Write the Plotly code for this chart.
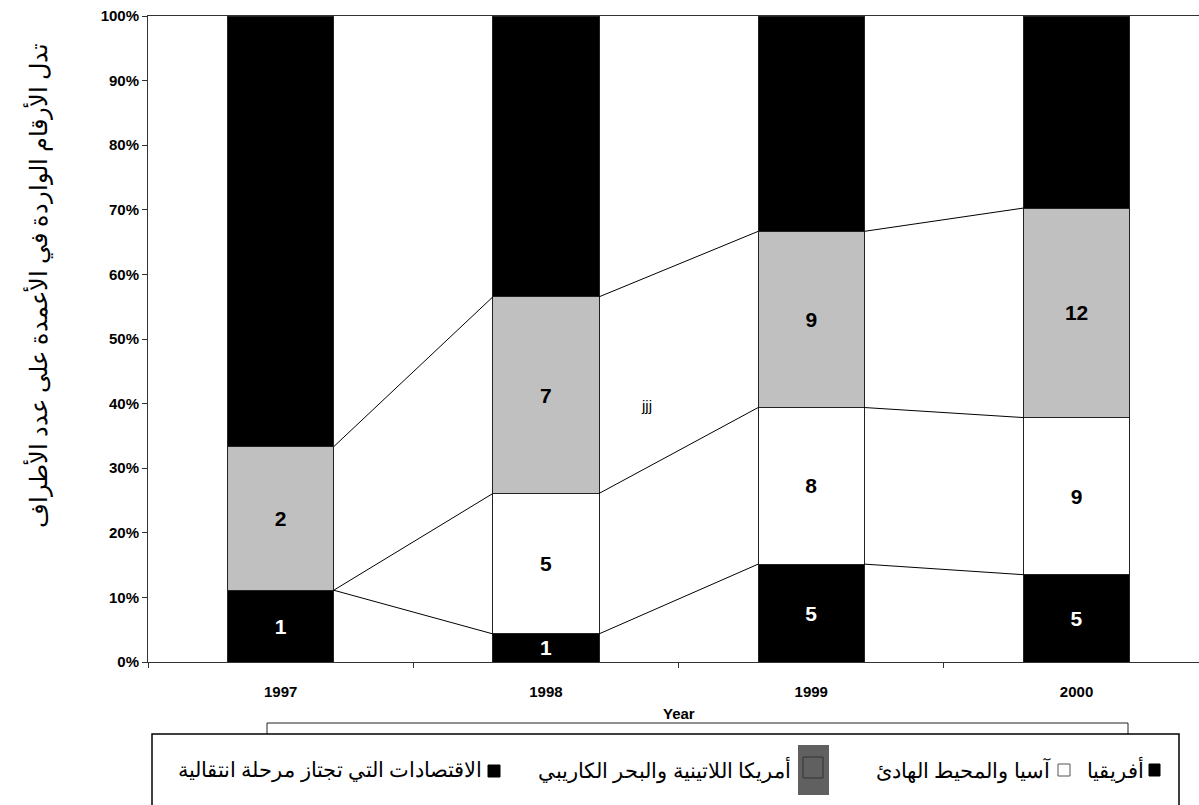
import plotly.graph_objects as go

# ---------------- data ----------------
years = ["1997", "1998", "1999", "2000"]
africa = [1, 1, 5, 5]
asia_pacific = [0, 5, 8, 9]
latin_america = [2, 7, 9, 12]
transition = [6, 10, 11, 11]

name_africa = "أفريقيا"
name_asia = "آسيا والمحيط الهادئ"
name_latam = "أمريكا اللاتينية والبحر الكاريبي"
name_transition = "الاقتصادات التي تجتاز مرحلة انتقالية"
y_title = "تدل الأرقام الواردة في الأعمدة على عدد الأطراف"
x_title = "Year"
note_text = "jjj"

# ---------------- derived ----------------
W, H = 1199, 805
ML, MR, MT, MB = 148, 0, 16, 143
PW, PH = W - ML - MR, H - MT - MB
CAT = 265.3          # pixel width of a category
BAR_W = 0.4          # bar width in category units
x_idx = list(range(len(years)))
x_max = -0.5 + PW / CAT

totals = [a + b + c + d for a, b, c, d in zip(africa, asia_pacific, latin_america, transition)]
series = [
    (name_africa, africa, "black", "white", True),
    (name_asia, asia_pacific, "white", "black", True),
    (name_latam, latin_america, "#C0C0C0", "black", True),
    (name_transition, transition, "black", "white", False),
]

def px2x(px):
    return (px - ML) / PW

def py2y(py):
    return (H - MB - py) / PH

LABEL_FONT = "Liberation Sans, Arial, sans-serif"
AR_FONT = "Times New Roman, Liberation Serif, DejaVu Serif, serif"

fig = go.Figure()

cum = [0.0] * len(years)
tops = []
for name, vals, color, tcolor, show_text in series:
    frac = [v / t for v, t in zip(vals, totals)]
    txt = [str(v) if (show_text and v > 0) else "" for v in vals]
    fig.add_trace(go.Bar(
        x=x_idx, y=frac, width=BAR_W, name=name,
        marker=dict(color=color, line=dict(color="#222222", width=1)),
        text=txt, textposition="inside", insidetextanchor="middle",
        textangle=0, constraintext="none",
        textfont=dict(family=LABEL_FONT, size=21, color=tcolor, weight="bold"),
        showlegend=False, hoverinfo="skip",
    ))
    cum = [c + f for c, f in zip(cum, frac)]
    tops.append(list(cum))

# series lines (connect tops of first three series between adjacent bars)
for top in tops[:3]:
    xs, ys = [], []
    for i in range(len(years) - 1):
        xs += [x_idx[i] + BAR_W / 2, x_idx[i + 1] - BAR_W / 2, None]
        ys += [top[i], top[i + 1], None]
    fig.add_trace(go.Scatter(x=xs, y=ys, mode="lines",
                             line=dict(color="black", width=1),
                             showlegend=False, hoverinfo="skip"))

fig.update_layout(
    width=W, height=H,
    margin=dict(l=ML, r=MR, t=MT, b=MB),
    paper_bgcolor="white", plot_bgcolor="white",
    barmode="stack",
    showlegend=False,
    xaxis=dict(
        range=[-0.5, x_max], tickmode="array", tickvals=x_idx, ticktext=years,
        ticks="", showgrid=False, zeroline=False,
        showline=True, linecolor="#333333", linewidth=1, mirror=True,
        tickfont=dict(family=LABEL_FONT, size=15, color="black", weight="bold"),
        ticklabelstandoff=16,
        minor=dict(tickmode="array", tickvals=[i + 0.5 for i in range(-1, len(years))],
                   ticks="outside", ticklen=5, tickcolor="#333333", showgrid=False),
    ),
    yaxis=dict(
        range=[0, 1], tickmode="linear", tick0=0, dtick=0.1, tickformat=".0%",
        ticks="outside", ticklen=5, tickcolor="#333333",
        showgrid=False, zeroline=False,
        showline=True, linecolor="#333333", linewidth=1,
        tickfont=dict(family=LABEL_FONT, size=15, color="black", weight="bold"),
    ),
)

annotations = [
    dict(text=x_title, x=1.5, xref="x", y=py2y(713), yref="paper",
         showarrow=False, xanchor="center", yanchor="middle",
         font=dict(family=LABEL_FONT, size=15, color="black", weight="bold")),
    dict(text=note_text, x=(646 - ML) / CAT - 0.5, xref="x", y=py2y(405), yref="paper",
         showarrow=False, xanchor="center", yanchor="middle",
         font=dict(family=LABEL_FONT, size=15, color="black")),
    dict(text=y_title, x=px2x(38), xref="paper", y=py2y(286), yref="paper",
         showarrow=False, xanchor="center", yanchor="middle", textangle=-90,
         font=dict(family=AR_FONT, size=24, color="black")),
]

# legend (right-to-left) built from annotations and key shapes
legend_items = [
    (name_africa, 1146),
    (name_asia, 1053),
    (name_latam, 793),
    (name_transition, 484),
]
for text, right_px in legend_items:
    annotations.append(dict(text=text, x=px2x(right_px), xref="paper", y=py2y(770), yref="paper",
                            showarrow=False, xanchor="right", yanchor="middle",
                            font=dict(family=AR_FONT, size=21, color="black")))

shapes = [
    # partial (hidden) legend frame behind
    dict(type="rect", xref="paper", yref="paper", x0=px2x(267), x1=px2x(1128),
         y0=py2y(810), y1=py2y(723), line=dict(color="#222222", width=1), fillcolor="white"),
    # legend frame
    dict(type="rect", xref="paper", yref="paper", x0=px2x(152), x1=px2x(1179),
         y0=py2y(830), y1=py2y(734), line=dict(color="black", width=1.5), fillcolor="white"),
    # keys
    dict(type="rect", xref="paper", yref="paper", x0=px2x(1149), x1=px2x(1160),
         y0=py2y(776), y1=py2y(764), line=dict(color="black", width=1), fillcolor="black"),
    dict(type="rect", xref="paper", yref="paper", x0=px2x(1058), x1=px2x(1070),
         y0=py2y(776), y1=py2y(764), line=dict(color="#555555", width=1), fillcolor="white"),
    dict(type="rect", xref="paper", yref="paper", x0=px2x(798), x1=px2x(829),
         y0=py2y(795), y1=py2y(745), line=dict(width=0), fillcolor="#606060"),
    dict(type="rect", xref="paper", yref="paper", x0=px2x(803), x1=px2x(823),
         y0=py2y(778), y1=py2y(757), line=dict(color="#333333", width=1), fillcolor="#606060"),
    dict(type="rect", xref="paper", yref="paper", x0=px2x(488), x1=px2x(500),
         y0=py2y(777), y1=py2y(765), line=dict(color="black", width=1), fillcolor="black"),
]

fig.update_layout(annotations=annotations, shapes=shapes)
fig.write_html("out.html")
